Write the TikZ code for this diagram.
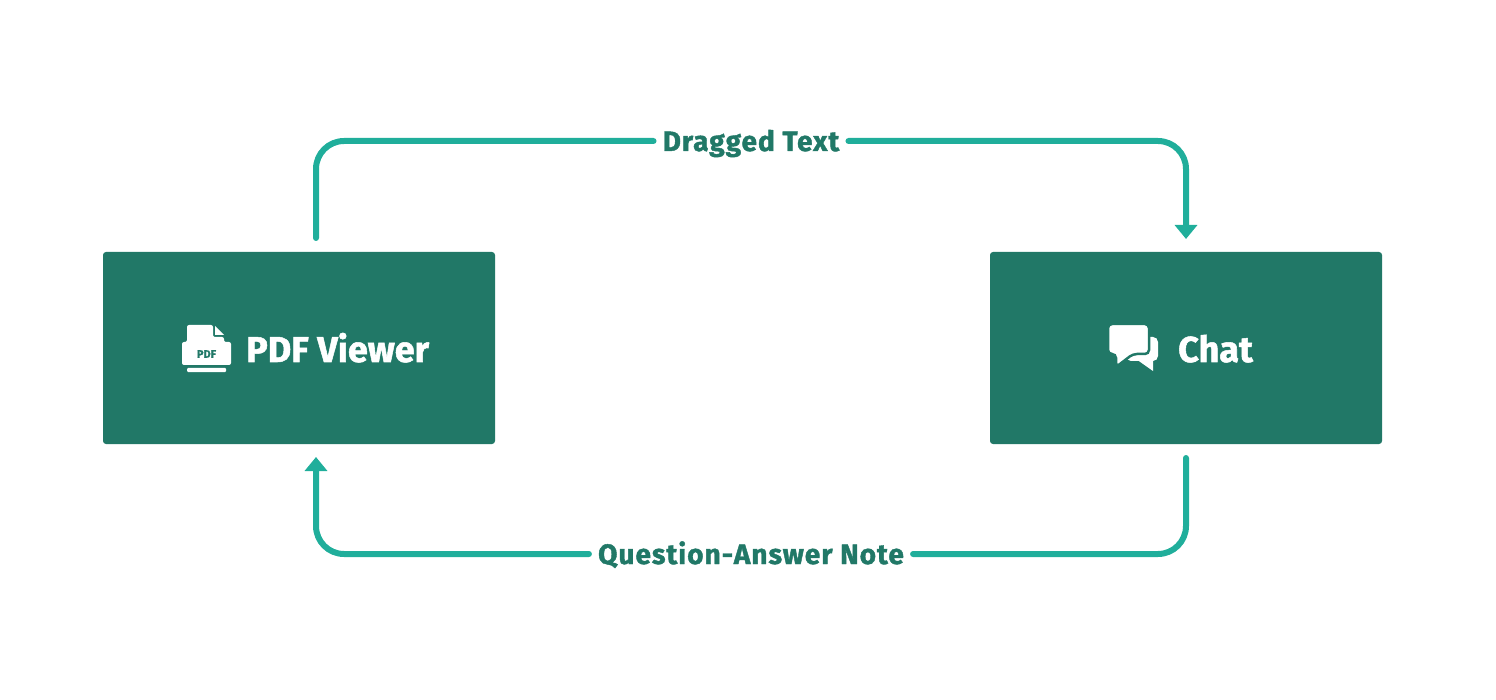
\documentclass[tikz,border=0pt]{standalone}
\usepackage{fontspec}
\setmainfont{Fira Sans}[BoldFeatures={FakeBold=1.4}]
\newfontfamily\flowfont{Fira Sans}[BoldFeatures={FakeBold=1.4,LetterSpace=3.6}]
\usetikzlibrary{arrows.meta}
\definecolor{boxgreen}{HTML}{217867}
\definecolor{linegreen}{HTML}{20AE9B}
\tikzset{
	panel/.style={fill=boxgreen, minimum width=392pt, minimum height=192pt, rounded corners=3pt, inner sep=0pt},
	panellabel/.style={text=white, font=\fontsize{36}{40}\selectfont\bfseries, inner sep=0pt, anchor=base west},
	flowlabel/.style={text=boxgreen, font=\flowfont\fontsize{28}{32}\selectfont\bfseries, inner xsep=9pt, inner ysep=0pt, text height=20pt, text depth=0pt},
	flow/.style={draw=linegreen, line width=6pt, rounded corners=28pt, line cap=round},
	flowtip/.style={flow, -{Triangle[width=22pt,length=14pt]}},
	icon/.style={fill=white, draw=none}
}
\begin{document}
\begin{tikzpicture}[x=1pt,y=-1pt]
	\useasboundingbox (0,0) rectangle (1496,700);
	\node[panel] (PDF) at (299,348) {};
	\node[panel] (Chat) at (1186,348) {};
	\node[panellabel] (PDFtext) at (246,362) {PDF Viewer};
	\node[panellabel] (Chattext) at (1178,362) {Chat};
	\node[flowlabel] (Dragged) at (751,141) {Dragged Text};
	\node[flowlabel] (Note) at (751,554) {Question-Answer Note};
	\coordinate (PDFout) at (316,238);
	\coordinate (Chatin) at (1186,239);
	\coordinate (Chatout) at (1186,458);
	\coordinate (PDFin) at (316,457);
	% connectors
	\draw[flow] (PDFout) |- (Dragged.west);
	\draw[flowtip] (Dragged.east) -| (Chatin);
	\draw[flow] (Chatout) |- (Note.east);
	\draw[flowtip] (Note.west) -| (PDFin);
	% pdf icon
	\fill[icon, rounded corners=2pt] (187,325) -- (213,325) -- (213,337) -- (224,337) -- (224,342) -- (231,342) -- (231,365) -- (182,365) -- (182,342) -- (187,342) -- cycle;
	\fill[icon] (215,326) -- (224,335) -- (215,335) -- cycle;
	\fill[icon, rounded corners=1pt] (187,368) rectangle (226,372);
	\node[text=boxgreen, font=\fontsize{11}{12}\selectfont\bfseries, inner sep=0pt] (PDFmark) at (206.5,354) {PDF};
	% chat icon
	\fill[icon, rounded corners=5pt] (1126,337) -- (1158,337) -- (1158,361) -- (1126,361) -- cycle;
	\fill[icon] (1136,359) -- (1153,371) -- (1153,358) -- cycle;
	\filldraw[icon, draw=boxgreen, line width=2.5pt, rounded corners=4pt] (1108,324) -- (1149,324) -- (1149,354) -- (1133,354) -- (1116,367) -- (1116,354) -- (1108,354) -- cycle;
\end{tikzpicture}
\end{document}
